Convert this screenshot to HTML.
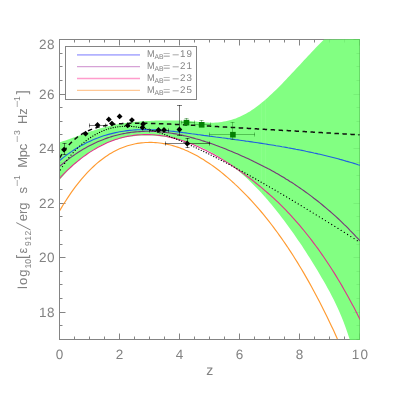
<!DOCTYPE html>
<html><head><meta charset="utf-8"><title>plot</title>
<style>
html,body{margin:0;padding:0;background:#fff;}
body{width:399px;height:399px;position:relative;overflow:hidden;font-family:"Liberation Sans",sans-serif;color:#828282;}
.t{position:absolute;white-space:nowrap;font-weight:400;display:block;text-rendering:geometricPrecision;}
.txt{position:absolute;left:0;top:0;width:399px;height:399px;filter:grayscale(1);}
.ylab{position:absolute;left:0;top:0;width:0;height:0;transform-origin:0 0;transform:translate(27.4px,288.5px) rotate(-90deg);}
</style></head><body>
<svg width="399" height="399" viewBox="0 0 399 399" style="position:absolute;left:0;top:0">
<defs><clipPath id="cp"><rect x="60" y="39" width="300" height="301"/></clipPath></defs>
<g stroke="#848484" stroke-width="1" fill="none" shape-rendering="auto">
<rect x="59.5" y="39.5" width="300" height="300"/>
<path d="M59.5 339.5v-6 M59.5 39.5v6 M74.5 339.5v-3 M74.5 39.5v3 M89.5 339.5v-3 M89.5 39.5v3 M104.5 339.5v-3 M104.5 39.5v3 M119.5 339.5v-6 M119.5 39.5v6 M134.5 339.5v-3 M134.5 39.5v3 M149.5 339.5v-3 M149.5 39.5v3 M164.5 339.5v-3 M164.5 39.5v3 M179.5 339.5v-6 M179.5 39.5v6 M194.5 339.5v-3 M194.5 39.5v3 M209.5 339.5v-3 M209.5 39.5v3 M224.5 339.5v-3 M224.5 39.5v3 M239.5 339.5v-6 M239.5 39.5v6 M254.5 339.5v-3 M254.5 39.5v3 M269.5 339.5v-3 M269.5 39.5v3 M284.5 339.5v-3 M284.5 39.5v3 M299.5 339.5v-6 M299.5 39.5v6 M314.5 339.5v-3 M314.5 39.5v3 M329.5 339.5v-3 M329.5 39.5v3 M344.5 339.5v-3 M344.5 39.5v3 M359.5 339.5v-6 M359.5 39.5v6 M59.5 339.5h3 M359.5 339.5h-3 M59.5 325.5h3 M359.5 325.5h-3 M59.5 312.5h6 M359.5 312.5h-6 M59.5 298.5h3 M359.5 298.5h-3 M59.5 284.5h3 M359.5 284.5h-3 M59.5 271.5h3 M359.5 271.5h-3 M59.5 257.5h6 M359.5 257.5h-6 M59.5 244.5h3 M359.5 244.5h-3 M59.5 230.5h3 M359.5 230.5h-3 M59.5 216.5h3 M359.5 216.5h-3 M59.5 203.5h6 M359.5 203.5h-6 M59.5 189.5h3 M359.5 189.5h-3 M59.5 175.5h3 M359.5 175.5h-3 M59.5 162.5h3 M359.5 162.5h-3 M59.5 148.5h6 M359.5 148.5h-6 M59.5 134.5h3 M359.5 134.5h-3 M59.5 121.5h3 M359.5 121.5h-3 M59.5 107.5h3 M359.5 107.5h-3 M59.5 94.5h6 M359.5 94.5h-6 M59.5 80.5h3 M359.5 80.5h-3 M59.5 66.5h3 M359.5 66.5h-3 M59.5 53.5h3 M359.5 53.5h-3 M59.5 39.5h6 M359.5 39.5h-6"/>
</g>
<g clip-path="url(#cp)">
<path d="M59.5 142.3 L61.5 141.7 L63.5 141.0 L65.5 140.4 L67.5 139.7 L69.5 139.0 L71.5 138.3 L73.5 137.6 L75.5 136.9 L77.5 136.1 L79.5 135.4 L81.5 134.7 L83.5 134.0 L85.5 133.2 L87.6 132.5 L89.6 131.8 L91.6 131.1 L93.6 130.4 L95.6 129.8 L97.6 129.2 L99.6 128.5 L101.6 128.0 L103.6 127.4 L105.6 126.9 L107.6 126.4 L109.6 125.9 L111.6 125.5 L113.6 125.1 L115.6 124.7 L117.6 124.3 L119.6 123.9 L121.6 123.6 L123.6 123.3 L125.6 123.0 L127.6 122.7 L129.6 122.5 L131.6 122.3 L133.6 122.0 L135.6 121.8 L137.6 121.7 L139.7 121.5 L141.7 121.3 L143.7 121.2 L145.7 121.1 L147.7 121.0 L149.7 120.9 L151.7 120.8 L153.7 120.7 L155.7 120.6 L157.7 120.5 L159.7 120.5 L161.7 120.5 L163.7 120.4 L165.7 120.4 L167.7 120.4 L169.7 120.4 L171.7 120.4 L173.7 120.5 L175.7 120.5 L177.7 120.6 L179.7 120.6 L181.7 120.7 L183.7 120.8 L185.7 120.9 L187.7 121.0 L189.7 121.1 L191.8 121.3 L193.8 121.5 L195.8 121.6 L197.8 121.8 L199.8 122.0 L201.8 122.2 L203.8 122.3 L205.8 122.5 L207.8 122.6 L209.8 122.7 L211.8 122.7 L213.8 122.7 L215.8 122.6 L217.8 122.4 L219.8 122.2 L221.8 122.0 L223.8 121.6 L225.8 121.3 L227.8 120.8 L229.8 120.3 L231.8 119.7 L233.8 119.1 L235.8 118.4 L237.8 117.6 L239.8 116.7 L241.8 115.8 L243.8 114.8 L245.9 113.7 L247.9 112.6 L249.9 111.4 L251.9 110.1 L253.9 108.7 L255.9 107.3 L257.9 105.8 L259.9 104.2 L261.9 102.6 L263.9 100.9 L265.9 99.2 L267.9 97.4 L269.9 95.6 L271.9 93.7 L273.9 91.8 L275.9 89.9 L277.9 87.9 L279.9 85.9 L281.9 83.9 L283.9 81.8 L285.9 79.7 L287.9 77.6 L289.9 75.5 L291.9 73.3 L293.9 71.2 L295.9 69.0 L298.0 66.8 L300.0 64.7 L302.0 62.5 L304.0 60.3 L306.0 58.2 L308.0 56.0 L310.0 53.9 L312.0 51.8 L314.0 49.7 L316.0 47.6 L318.0 45.5 L320.0 43.5 L322.0 41.5 L324.0 39.5 L360.0 39.0 L360.0 340.0 L349.8 340.0 L349.8 339.7 L347.8 333.7 L345.8 328.0 L343.8 322.6 L341.8 317.6 L339.8 312.8 L337.8 308.2 L335.8 303.9 L333.8 299.8 L331.8 295.9 L329.8 292.1 L327.8 288.4 L325.8 284.8 L323.8 281.3 L321.8 277.9 L319.8 274.5 L317.8 271.1 L315.8 267.8 L313.8 264.5 L311.8 261.3 L309.8 258.1 L307.8 254.9 L305.8 251.8 L303.8 248.7 L301.8 245.6 L299.7 242.6 L297.7 239.7 L295.7 236.7 L293.7 233.8 L291.7 231.0 L289.7 228.2 L287.7 225.4 L285.7 222.7 L283.7 220.0 L281.7 217.4 L279.7 214.8 L277.7 212.2 L275.7 209.7 L273.7 207.2 L271.7 204.8 L269.7 202.4 L267.7 200.1 L265.7 197.8 L263.7 195.5 L261.7 193.3 L259.7 191.1 L257.7 189.0 L255.7 187.0 L253.7 184.9 L251.7 182.9 L249.7 181.0 L247.7 179.1 L245.7 177.3 L243.7 175.5 L241.7 173.7 L239.7 172.0 L237.7 170.3 L235.7 168.7 L233.7 167.1 L231.7 165.6 L229.7 164.1 L227.7 162.7 L225.7 161.3 L223.7 159.9 L221.7 158.6 L219.7 157.3 L217.7 156.0 L215.7 154.8 L213.7 153.7 L211.7 152.6 L209.7 151.5 L207.7 150.4 L205.7 149.4 L203.6 148.5 L201.6 147.5 L199.6 146.6 L197.6 145.8 L195.6 145.0 L193.6 144.2 L191.6 143.4 L189.6 142.7 L187.6 142.1 L185.6 141.4 L183.6 140.8 L181.6 140.3 L179.6 139.7 L177.6 139.2 L175.6 138.8 L173.6 138.3 L171.6 137.9 L169.6 137.5 L167.6 137.2 L165.6 136.9 L163.6 136.6 L161.6 136.4 L159.6 136.2 L157.6 136.0 L155.6 135.8 L153.6 135.7 L151.6 135.6 L149.6 135.5 L147.6 135.5 L145.6 135.5 L143.6 135.5 L141.6 135.6 L139.6 135.7 L137.6 135.8 L135.6 136.0 L133.6 136.2 L131.6 136.4 L129.6 136.7 L127.6 137.0 L125.6 137.3 L123.6 137.7 L121.6 138.2 L119.6 138.7 L117.6 139.2 L115.6 139.8 L113.6 140.4 L111.6 141.1 L109.6 141.8 L107.5 142.6 L105.5 143.4 L103.5 144.3 L101.5 145.3 L99.5 146.3 L97.5 147.4 L95.5 148.5 L93.5 149.7 L91.5 150.9 L89.5 152.2 L87.5 153.6 L85.5 155.0 L83.5 156.5 L81.5 158.1 L79.5 159.7 L77.5 161.5 L75.5 163.2 L73.5 165.1 L71.5 167.0 L69.5 169.0 L67.5 171.1 L65.5 173.3 L63.5 175.5 L61.5 177.8 L59.5 180.2Z" fill="#82ff82" stroke="none"/>
<clipPath id="gp"><path d="M59.5 142.3 L61.5 141.7 L63.5 141.0 L65.5 140.4 L67.5 139.7 L69.5 139.0 L71.5 138.3 L73.5 137.6 L75.5 136.9 L77.5 136.1 L79.5 135.4 L81.5 134.7 L83.5 134.0 L85.5 133.2 L87.6 132.5 L89.6 131.8 L91.6 131.1 L93.6 130.4 L95.6 129.8 L97.6 129.2 L99.6 128.5 L101.6 128.0 L103.6 127.4 L105.6 126.9 L107.6 126.4 L109.6 125.9 L111.6 125.5 L113.6 125.1 L115.6 124.7 L117.6 124.3 L119.6 123.9 L121.6 123.6 L123.6 123.3 L125.6 123.0 L127.6 122.7 L129.6 122.5 L131.6 122.3 L133.6 122.0 L135.6 121.8 L137.6 121.7 L139.7 121.5 L141.7 121.3 L143.7 121.2 L145.7 121.1 L147.7 121.0 L149.7 120.9 L151.7 120.8 L153.7 120.7 L155.7 120.6 L157.7 120.5 L159.7 120.5 L161.7 120.5 L163.7 120.4 L165.7 120.4 L167.7 120.4 L169.7 120.4 L171.7 120.4 L173.7 120.5 L175.7 120.5 L177.7 120.6 L179.7 120.6 L181.7 120.7 L183.7 120.8 L185.7 120.9 L187.7 121.0 L189.7 121.1 L191.8 121.3 L193.8 121.5 L195.8 121.6 L197.8 121.8 L199.8 122.0 L201.8 122.2 L203.8 122.3 L205.8 122.5 L207.8 122.6 L209.8 122.7 L211.8 122.7 L213.8 122.7 L215.8 122.6 L217.8 122.4 L219.8 122.2 L221.8 122.0 L223.8 121.6 L225.8 121.3 L227.8 120.8 L229.8 120.3 L231.8 119.7 L233.8 119.1 L235.8 118.4 L237.8 117.6 L239.8 116.7 L241.8 115.8 L243.8 114.8 L245.9 113.7 L247.9 112.6 L249.9 111.4 L251.9 110.1 L253.9 108.7 L255.9 107.3 L257.9 105.8 L259.9 104.2 L261.9 102.6 L263.9 100.9 L265.9 99.2 L267.9 97.4 L269.9 95.6 L271.9 93.7 L273.9 91.8 L275.9 89.9 L277.9 87.9 L279.9 85.9 L281.9 83.9 L283.9 81.8 L285.9 79.7 L287.9 77.6 L289.9 75.5 L291.9 73.3 L293.9 71.2 L295.9 69.0 L298.0 66.8 L300.0 64.7 L302.0 62.5 L304.0 60.3 L306.0 58.2 L308.0 56.0 L310.0 53.9 L312.0 51.8 L314.0 49.7 L316.0 47.6 L318.0 45.5 L320.0 43.5 L322.0 41.5 L324.0 39.5 L360.0 39.0 L360.0 340.0 L349.8 340.0 L349.8 339.7 L347.8 333.7 L345.8 328.0 L343.8 322.6 L341.8 317.6 L339.8 312.8 L337.8 308.2 L335.8 303.9 L333.8 299.8 L331.8 295.9 L329.8 292.1 L327.8 288.4 L325.8 284.8 L323.8 281.3 L321.8 277.9 L319.8 274.5 L317.8 271.1 L315.8 267.8 L313.8 264.5 L311.8 261.3 L309.8 258.1 L307.8 254.9 L305.8 251.8 L303.8 248.7 L301.8 245.6 L299.7 242.6 L297.7 239.7 L295.7 236.7 L293.7 233.8 L291.7 231.0 L289.7 228.2 L287.7 225.4 L285.7 222.7 L283.7 220.0 L281.7 217.4 L279.7 214.8 L277.7 212.2 L275.7 209.7 L273.7 207.2 L271.7 204.8 L269.7 202.4 L267.7 200.1 L265.7 197.8 L263.7 195.5 L261.7 193.3 L259.7 191.1 L257.7 189.0 L255.7 187.0 L253.7 184.9 L251.7 182.9 L249.7 181.0 L247.7 179.1 L245.7 177.3 L243.7 175.5 L241.7 173.7 L239.7 172.0 L237.7 170.3 L235.7 168.7 L233.7 167.1 L231.7 165.6 L229.7 164.1 L227.7 162.7 L225.7 161.3 L223.7 159.9 L221.7 158.6 L219.7 157.3 L217.7 156.0 L215.7 154.8 L213.7 153.7 L211.7 152.6 L209.7 151.5 L207.7 150.4 L205.7 149.4 L203.6 148.5 L201.6 147.5 L199.6 146.6 L197.6 145.8 L195.6 145.0 L193.6 144.2 L191.6 143.4 L189.6 142.7 L187.6 142.1 L185.6 141.4 L183.6 140.8 L181.6 140.3 L179.6 139.7 L177.6 139.2 L175.6 138.8 L173.6 138.3 L171.6 137.9 L169.6 137.5 L167.6 137.2 L165.6 136.9 L163.6 136.6 L161.6 136.4 L159.6 136.2 L157.6 136.0 L155.6 135.8 L153.6 135.7 L151.6 135.6 L149.6 135.5 L147.6 135.5 L145.6 135.5 L143.6 135.5 L141.6 135.6 L139.6 135.7 L137.6 135.8 L135.6 136.0 L133.6 136.2 L131.6 136.4 L129.6 136.7 L127.6 137.0 L125.6 137.3 L123.6 137.7 L121.6 138.2 L119.6 138.7 L117.6 139.2 L115.6 139.8 L113.6 140.4 L111.6 141.1 L109.6 141.8 L107.5 142.6 L105.5 143.4 L103.5 144.3 L101.5 145.3 L99.5 146.3 L97.5 147.4 L95.5 148.5 L93.5 149.7 L91.5 150.9 L89.5 152.2 L87.5 153.6 L85.5 155.0 L83.5 156.5 L81.5 158.1 L79.5 159.7 L77.5 161.5 L75.5 163.2 L73.5 165.1 L71.5 167.0 L69.5 169.0 L67.5 171.1 L65.5 173.3 L63.5 175.5 L61.5 177.8 L59.5 180.2Z"/></clipPath>
<g clip-path="url(#gp)" stroke="#004000" stroke-opacity="0.2" stroke-width="1" fill="none">
<path d="M59.5 39.5H359.5V339.5H59.5"/>
<path d="M59.5 339.5v-6 M59.5 39.5v6 M74.5 339.5v-3 M74.5 39.5v3 M89.5 339.5v-3 M89.5 39.5v3 M104.5 339.5v-3 M104.5 39.5v3 M119.5 339.5v-6 M119.5 39.5v6 M134.5 339.5v-3 M134.5 39.5v3 M149.5 339.5v-3 M149.5 39.5v3 M164.5 339.5v-3 M164.5 39.5v3 M179.5 339.5v-6 M179.5 39.5v6 M194.5 339.5v-3 M194.5 39.5v3 M209.5 339.5v-3 M209.5 39.5v3 M224.5 339.5v-3 M224.5 39.5v3 M239.5 339.5v-6 M239.5 39.5v6 M254.5 339.5v-3 M254.5 39.5v3 M269.5 339.5v-3 M269.5 39.5v3 M284.5 339.5v-3 M284.5 39.5v3 M299.5 339.5v-6 M299.5 39.5v6 M314.5 339.5v-3 M314.5 39.5v3 M329.5 339.5v-3 M329.5 39.5v3 M344.5 339.5v-3 M344.5 39.5v3 M359.5 339.5v-6 M359.5 39.5v6 M59.5 339.5h3 M359.5 339.5h-3 M59.5 325.5h3 M359.5 325.5h-3 M59.5 312.5h6 M359.5 312.5h-6 M59.5 298.5h3 M359.5 298.5h-3 M59.5 284.5h3 M359.5 284.5h-3 M59.5 271.5h3 M359.5 271.5h-3 M59.5 257.5h6 M359.5 257.5h-6 M59.5 244.5h3 M359.5 244.5h-3 M59.5 230.5h3 M359.5 230.5h-3 M59.5 216.5h3 M359.5 216.5h-3 M59.5 203.5h6 M359.5 203.5h-6 M59.5 189.5h3 M359.5 189.5h-3 M59.5 175.5h3 M359.5 175.5h-3 M59.5 162.5h3 M359.5 162.5h-3 M59.5 148.5h6 M359.5 148.5h-6 M59.5 134.5h3 M359.5 134.5h-3 M59.5 121.5h3 M359.5 121.5h-3 M59.5 107.5h3 M359.5 107.5h-3 M59.5 94.5h6 M359.5 94.5h-6 M59.5 80.5h3 M359.5 80.5h-3 M59.5 66.5h3 M359.5 66.5h-3 M59.5 53.5h3 M359.5 53.5h-3 M59.5 39.5h6 M359.5 39.5h-6" stroke-opacity="0.08"/>
<path d="M261.5 39V339M265.5 39V339" stroke="#ffffff" stroke-opacity="0.07"/>
</g>
<path d="M59.5 211.0 L61.5 207.6 L63.5 204.3 L65.5 201.2 L67.5 198.1 L69.5 195.1 L71.5 192.2 L73.5 189.4 L75.5 186.7 L77.5 184.1 L79.5 181.6 L81.5 179.1 L83.5 176.8 L85.5 174.6 L87.5 172.4 L89.5 170.3 L91.5 168.4 L93.5 166.5 L95.5 164.6 L97.5 162.9 L99.5 161.2 L101.5 159.7 L103.5 158.2 L105.5 156.7 L107.5 155.4 L109.5 154.1 L111.5 152.9 L113.5 151.8 L115.5 150.7 L117.5 149.7 L119.5 148.8 L121.5 148.0 L123.5 147.2 L125.5 146.5 L127.5 145.8 L129.5 145.2 L131.5 144.7 L133.5 144.2 L135.5 143.8 L137.5 143.4 L139.5 143.1 L141.5 142.9 L143.5 142.7 L145.5 142.5 L147.5 142.5 L149.5 142.4 L151.5 142.4 L153.5 142.5 L155.5 142.6 L157.5 142.8 L159.5 143.0 L161.5 143.3 L163.5 143.6 L165.5 143.9 L167.5 144.4 L169.5 144.8 L171.5 145.3 L173.5 145.9 L175.5 146.5 L177.5 147.1 L179.5 147.8 L181.5 148.6 L183.5 149.3 L185.5 150.2 L187.5 151.0 L189.5 152.0 L191.5 152.9 L193.5 153.9 L195.5 155.0 L197.5 156.1 L199.4 157.2 L201.4 158.4 L203.4 159.6 L205.4 160.9 L207.4 162.2 L209.4 163.5 L211.4 164.9 L213.4 166.3 L215.4 167.8 L217.4 169.3 L219.4 170.8 L221.4 172.4 L223.4 174.0 L225.4 175.7 L227.4 177.4 L229.4 179.1 L231.4 180.9 L233.4 182.7 L235.4 184.6 L237.4 186.4 L239.4 188.4 L241.4 190.3 L243.4 192.3 L245.4 194.3 L247.4 196.4 L249.4 198.5 L251.4 200.7 L253.4 202.9 L255.4 205.1 L257.4 207.4 L259.4 209.7 L261.4 212.0 L263.4 214.4 L265.4 216.9 L267.4 219.4 L269.4 221.9 L271.4 224.5 L273.4 227.1 L275.4 229.8 L277.4 232.5 L279.4 235.3 L281.4 238.1 L283.4 241.0 L285.4 243.9 L287.4 246.8 L289.4 249.9 L291.4 252.9 L293.4 256.0 L295.4 259.2 L297.4 262.4 L299.4 265.7 L301.4 269.0 L303.4 272.4 L305.4 275.9 L307.4 279.4 L309.4 282.9 L311.4 286.5 L313.4 290.2 L315.4 293.9 L317.4 297.7 L319.4 301.5 L321.4 305.4 L323.4 309.4 L325.4 313.4 L327.4 317.5 L329.4 321.7 L331.4 325.9 L333.4 330.1 L335.4 334.5 L337.4 338.9" fill="none" stroke="#ff9a30" stroke-width="1.15" />
<path d="M59.5 178.4 L61.5 176.3 L63.5 174.2 L65.5 172.2 L67.5 170.2 L69.5 168.3 L71.5 166.5 L73.5 164.7 L75.5 163.0 L77.5 161.3 L79.5 159.7 L81.5 158.1 L83.5 156.6 L85.5 155.2 L87.5 153.8 L89.5 152.4 L91.6 151.1 L93.6 149.9 L95.6 148.7 L97.6 147.6 L99.6 146.5 L101.6 145.5 L103.6 144.5 L105.6 143.5 L107.6 142.6 L109.6 141.8 L111.6 141.0 L113.6 140.3 L115.6 139.6 L117.6 138.9 L119.6 138.3 L121.6 137.8 L123.6 137.3 L125.6 136.8 L127.6 136.4 L129.6 136.0 L131.6 135.7 L133.6 135.4 L135.6 135.1 L137.6 134.9 L139.6 134.8 L141.6 134.7 L143.6 134.6 L145.6 134.5 L147.6 134.6 L149.7 134.6 L151.7 134.7 L153.7 134.8 L155.7 135.0 L157.7 135.2 L159.7 135.4 L161.7 135.7 L163.7 136.0 L165.7 136.3 L167.7 136.7 L169.7 137.1 L171.7 137.6 L173.7 138.1 L175.7 138.6 L177.7 139.2 L179.7 139.8 L181.7 140.4 L183.7 141.1 L185.7 141.8 L187.7 142.5 L189.7 143.2 L191.7 144.0 L193.7 144.8 L195.7 145.7 L197.7 146.6 L199.7 147.5 L201.7 148.4 L203.7 149.4 L205.7 150.3 L207.7 151.4 L209.8 152.4 L211.8 153.5 L213.8 154.6 L215.8 155.7 L217.8 156.8 L219.8 158.0 L221.8 159.2 L223.8 160.4 L225.8 161.7 L227.8 162.9 L229.8 164.2 L231.8 165.5 L233.8 166.9 L235.8 168.2 L237.8 169.6 L239.8 171.0 L241.8 172.4 L243.8 173.9 L245.8 175.3 L247.8 176.8 L249.8 178.3 L251.8 179.8 L253.8 181.4 L255.8 183.0 L257.8 184.6 L259.8 186.2 L261.8 187.9 L263.8 189.6 L265.8 191.3 L267.8 193.0 L269.9 194.8 L271.9 196.6 L273.9 198.4 L275.9 200.3 L277.9 202.2 L279.9 204.2 L281.9 206.2 L283.9 208.2 L285.9 210.2 L287.9 212.3 L289.9 214.4 L291.9 216.6 L293.9 218.8 L295.9 221.1 L297.9 223.4 L299.9 225.7 L301.9 228.1 L303.9 230.5 L305.9 233.0 L307.9 235.5 L309.9 238.0 L311.9 240.6 L313.9 243.3 L315.9 246.0 L317.9 248.7 L319.9 251.5 L321.9 254.4 L323.9 257.3 L325.9 260.3 L327.9 263.3 L329.9 266.3 L332.0 269.5 L334.0 272.6 L336.0 275.9 L338.0 279.2 L340.0 282.5 L342.0 285.9 L344.0 289.4 L346.0 292.9 L348.0 296.5 L350.0 300.2 L352.0 303.9 L354.0 307.6 L356.0 311.5 L358.0 315.4 L360.0 319.4" fill="none" stroke="#e0308c" stroke-width="1.1" />
<path d="M59.5 166.5 L61.5 164.8 L63.5 163.1 L65.5 161.5 L67.5 159.9 L69.5 158.4 L71.5 156.9 L73.5 155.5 L75.5 154.1 L77.5 152.8 L79.5 151.5 L81.5 150.3 L83.5 149.1 L85.5 147.9 L87.5 146.8 L89.5 145.7 L91.6 144.7 L93.6 143.7 L95.6 142.8 L97.6 141.8 L99.6 141.0 L101.6 140.2 L103.6 139.4 L105.6 138.6 L107.6 137.9 L109.6 137.3 L111.6 136.6 L113.6 136.0 L115.6 135.5 L117.6 135.0 L119.6 134.5 L121.6 134.0 L123.6 133.6 L125.6 133.3 L127.6 132.9 L129.6 132.6 L131.6 132.3 L133.6 132.1 L135.6 131.9 L137.6 131.7 L139.6 131.6 L141.6 131.5 L143.6 131.4 L145.6 131.3 L147.6 131.3 L149.7 131.3 L151.7 131.4 L153.7 131.4 L155.7 131.5 L157.7 131.7 L159.7 131.8 L161.7 132.0 L163.7 132.2 L165.7 132.4 L167.7 132.7 L169.7 133.0 L171.7 133.3 L173.7 133.6 L175.7 133.9 L177.7 134.3 L179.7 134.7 L181.7 135.1 L183.7 135.6 L185.7 136.0 L187.7 136.5 L189.7 137.0 L191.7 137.6 L193.7 138.1 L195.7 138.7 L197.7 139.2 L199.7 139.8 L201.7 140.5 L203.7 141.1 L205.7 141.8 L207.7 142.4 L209.8 143.1 L211.8 143.8 L213.8 144.5 L215.8 145.3 L217.8 146.0 L219.8 146.8 L221.8 147.5 L223.8 148.3 L225.8 149.1 L227.8 149.9 L229.8 150.8 L231.8 151.6 L233.8 152.4 L235.8 153.3 L237.8 154.1 L239.8 155.0 L241.8 155.9 L243.8 156.8 L245.8 157.7 L247.8 158.6 L249.8 159.6 L251.8 160.5 L253.8 161.5 L255.8 162.4 L257.8 163.4 L259.8 164.4 L261.8 165.4 L263.8 166.5 L265.8 167.5 L267.8 168.6 L269.9 169.6 L271.9 170.7 L273.9 171.8 L275.9 173.0 L277.9 174.1 L279.9 175.3 L281.9 176.4 L283.9 177.6 L285.9 178.9 L287.9 180.1 L289.9 181.4 L291.9 182.6 L293.9 183.9 L295.9 185.3 L297.9 186.6 L299.9 188.0 L301.9 189.4 L303.9 190.8 L305.9 192.2 L307.9 193.6 L309.9 195.1 L311.9 196.6 L313.9 198.2 L315.9 199.7 L317.9 201.3 L319.9 202.9 L321.9 204.5 L323.9 206.2 L325.9 207.9 L327.9 209.6 L329.9 211.3 L332.0 213.1 L334.0 214.9 L336.0 216.7 L338.0 218.5 L340.0 220.4 L342.0 222.3 L344.0 224.3 L346.0 226.2 L348.0 228.2 L350.0 230.3 L352.0 232.3 L354.0 234.4 L356.0 236.6 L358.0 238.7 L360.0 240.9" fill="none" stroke="#763878" stroke-width="1.12" />
<path d="M59.5 160.6 L61.5 159.0 L63.5 157.4 L65.5 155.9 L67.5 154.4 L69.5 153.0 L71.5 151.6 L73.5 150.3 L75.5 149.0 L77.5 147.8 L79.5 146.6 L81.5 145.4 L83.5 144.4 L85.5 143.3 L87.5 142.3 L89.5 141.4 L91.6 140.4 L93.6 139.6 L95.6 138.7 L97.6 138.0 L99.6 137.2 L101.6 136.5 L103.6 135.8 L105.6 135.2 L107.6 134.6 L109.6 134.1 L111.6 133.6 L113.6 133.1 L115.6 132.6 L117.6 132.2 L119.6 131.8 L121.6 131.5 L123.6 131.2 L125.6 130.9 L127.6 130.6 L129.6 130.4 L131.6 130.2 L133.6 130.0 L135.6 129.9 L137.6 129.8 L139.6 129.7 L141.6 129.7 L143.6 129.6 L145.6 129.6 L147.6 129.6 L149.7 129.7 L151.7 129.7 L153.7 129.8 L155.7 129.9 L157.7 130.0 L159.7 130.1 L161.7 130.3 L163.7 130.4 L165.7 130.6 L167.7 130.8 L169.7 131.0 L171.7 131.2 L173.7 131.4 L175.7 131.7 L177.7 131.9 L179.7 132.2 L181.7 132.4 L183.7 132.7 L185.7 132.9 L187.7 133.2 L189.7 133.5 L191.7 133.8 L193.7 134.0 L195.7 134.3 L197.7 134.6 L199.7 134.8 L201.7 135.1 L203.7 135.4 L205.7 135.6 L207.7 135.9 L209.8 136.2 L211.8 136.4 L213.8 136.7 L215.8 137.0 L217.8 137.2 L219.8 137.5 L221.8 137.8 L223.8 138.0 L225.8 138.3 L227.8 138.6 L229.8 138.8 L231.8 139.1 L233.8 139.4 L235.8 139.7 L237.8 139.9 L239.8 140.2 L241.8 140.5 L243.8 140.8 L245.8 141.1 L247.8 141.3 L249.8 141.6 L251.8 141.9 L253.8 142.2 L255.8 142.5 L257.8 142.8 L259.8 143.1 L261.8 143.4 L263.8 143.7 L265.8 144.0 L267.8 144.4 L269.9 144.7 L271.9 145.0 L273.9 145.3 L275.9 145.7 L277.9 146.0 L279.9 146.3 L281.9 146.7 L283.9 147.0 L285.9 147.4 L287.9 147.8 L289.9 148.1 L291.9 148.5 L293.9 148.9 L295.9 149.3 L297.9 149.6 L299.9 150.0 L301.9 150.4 L303.9 150.8 L305.9 151.3 L307.9 151.7 L309.9 152.1 L311.9 152.5 L313.9 153.0 L315.9 153.4 L317.9 153.9 L319.9 154.3 L321.9 154.8 L323.9 155.3 L325.9 155.8 L327.9 156.3 L329.9 156.8 L332.0 157.3 L334.0 157.8 L336.0 158.3 L338.0 158.8 L340.0 159.4 L342.0 159.9 L344.0 160.5 L346.0 161.1 L348.0 161.6 L350.0 162.2 L352.0 162.8 L354.0 163.4 L356.0 164.0 L358.0 164.7 L360.0 165.3" fill="none" stroke="#2060e0" stroke-width="1.1" />
<path d="M60.40 169.88h0.01M62.50 166.53h0.01M64.61 163.39h0.01M66.73 160.46h0.01M68.86 157.70h0.01M70.99 155.11h0.01M73.14 152.66h0.01M75.29 150.35h0.01M77.45 148.18h0.01M79.62 146.12h0.01M81.80 144.18h0.01M83.99 142.36h0.01M86.18 140.63h0.01M88.39 139.01h0.01M90.60 137.49h0.01M92.82 136.08h0.01M95.05 134.75h0.01M97.29 133.53h0.01M99.54 132.40h0.01M101.80 131.36h0.01M104.06 130.43h0.01M106.33 129.59h0.01M108.61 128.85h0.01M110.89 128.20h0.01M113.17 127.65h0.01M115.46 127.19h0.01M117.75 126.83h0.01M120.05 126.55h0.01M122.36 126.37h0.01M124.66 126.27h0.01M126.98 126.25h0.01M129.30 126.31h0.01M131.62 126.46h0.01M133.95 126.67h0.01M136.28 126.95h0.01M138.62 127.30h0.01M140.97 127.72h0.01M143.32 128.19h0.01M145.67 128.71h0.01M148.03 129.29h0.01M150.40 129.92h0.01M152.77 130.59h0.01M155.14 131.30h0.01M157.52 132.05h0.01M159.91 132.84h0.01M162.30 133.67h0.01M164.69 134.53h0.01M167.09 135.42h0.01M169.50 136.33h0.01M171.91 137.28h0.01M174.33 138.25h0.01M176.75 139.24h0.01M179.18 140.26h0.01M181.61 141.30h0.01M184.05 142.36h0.01M186.49 143.44h0.01M188.94 144.54h0.01M191.40 145.66h0.01M193.85 146.80h0.01M196.32 147.96h0.01M198.79 149.13h0.01M201.27 150.32h0.01M203.75 151.52h0.01M206.23 152.74h0.01M208.72 153.97h0.01M211.22 155.22h0.01M213.73 156.48h0.01M216.25 157.76h0.01M218.78 159.06h0.01M221.33 160.38h0.01M223.88 161.71h0.01M226.46 163.06h0.01M229.04 164.43h0.01M231.64 165.81h0.01M234.26 167.22h0.01M236.88 168.63h0.01M239.52 170.07h0.01M242.18 171.52h0.01M244.84 172.99h0.01M247.53 174.47h0.01M250.22 175.97h0.01M252.93 177.49h0.01M255.66 179.02h0.01M258.39 180.57h0.01M261.15 182.13h0.01M263.91 183.71h0.01M266.69 185.31h0.01M269.49 186.92h0.01M272.30 188.55h0.01M275.13 190.20h0.01M277.97 191.86h0.01M280.82 193.54h0.01M283.69 195.23h0.01M286.57 196.94h0.01M289.47 198.66h0.01M292.39 200.40h0.01M295.32 202.16h0.01M298.26 203.93h0.01M301.22 205.72h0.01M304.20 207.53h0.01M307.19 209.35h0.01M310.20 211.18h0.01M313.22 213.04h0.01M316.26 214.91h0.01M319.31 216.79h0.01M322.38 218.69h0.01M325.47 220.61h0.01M328.57 222.54h0.01M331.69 224.49h0.01M334.83 226.46h0.01M337.99 228.44h0.01M341.16 230.45h0.01M344.35 232.46h0.01M347.57 234.50h0.01M350.79 236.55h0.01M354.04 238.62h0.01M357.31 240.71h0.01" fill="none" stroke="#000" stroke-width="1.3" stroke-linecap="round"/>
<path d="M59.5 158.1 L60.5 156.5 L61.5 154.9 L62.5 153.3 L63.5 151.9 L64.5 150.5 L65.5 149.1 L66.5 147.8 L67.5 146.6 L68.5 145.5 L69.5 144.3 L70.5 143.3 L71.5 142.3 L72.5 141.3 L73.5 140.4 L74.5 139.5 L75.5 138.6 L76.5 137.8 L77.5 137.0 L78.5 136.3 L79.5 135.6 L80.5 134.9 L81.5 134.3 L82.5 133.7 L83.5 133.1 L84.5 132.6 L85.5 132.0 L86.5 131.5 L87.5 131.0 L88.5 130.6 L89.5 130.2 L90.5 129.7 L91.5 129.4 L92.5 129.0 L93.5 128.6 L94.5 128.3 L95.5 128.0 L96.5 127.7 L97.5 127.4 L98.5 127.1 L99.5 126.8 L100.5 126.6 L101.5 126.3 L102.5 126.1 L103.5 125.9 L104.5 125.7 L105.5 125.5 L106.5 125.4 L107.5 125.2 L108.5 125.0 L109.5 124.9 L110.5 124.7 L111.5 124.6 L112.5 124.5 L113.5 124.4 L114.5 124.3 L115.5 124.2 L116.5 124.1 L117.5 124.0 L118.5 123.9 L119.5 123.8 L120.5 123.8 L121.5 123.7 L122.5 123.6 L123.5 123.6 L124.5 123.5 L125.5 123.5 L126.5 123.4 L127.5 123.4 L128.5 123.4 L129.5 123.3 L130.5 123.3 L131.5 123.3 L132.5 123.3 L133.5 123.3 L134.5 123.3 L135.5 123.2 L136.5 123.2 L137.5 123.2 L138.5 123.2 L139.5 123.2 L140.5 123.2 L141.5 123.3 L142.5 123.3 L143.5 123.3 L144.5 123.3 L145.5 123.3 L146.5 123.3 L147.5 123.3 L148.5 123.4 L149.5 123.4 L150.5 123.4 L151.5 123.4 L152.5 123.5 L153.5 123.5 L154.5 123.5 L155.5 123.5 L156.5 123.6 L157.5 123.6 L158.5 123.6 L159.5 123.7 L160.5 123.7 L161.5 123.8 L162.5 123.8 L163.5 123.8 L164.5 123.9 L165.5 123.9 L166.5 124.0 L167.5 124.0 L168.5 124.0 L169.5 124.1 L170.5 124.1 L171.5 124.2 L172.5 124.2 L173.5 124.3 L174.5 124.3 L175.5 124.4 L176.5 124.4 L177.5 124.5 L178.5 124.5 L179.5 124.5 L180.5 124.6 L181.5 124.6 L182.5 124.7 L183.5 124.7 L184.5 124.8 L185.5 124.9 L186.5 124.9 L187.5 125.0 L188.5 125.0 L189.5 125.1 L190.5 125.1 L191.5 125.2 L192.5 125.2 L193.5 125.3 L194.5 125.3 L195.5 125.4 L196.5 125.4 L197.5 125.5 L198.5 125.5 L199.5 125.6 L200.5 125.6 L201.5 125.7 L202.5 125.8 L203.5 125.8 L204.5 125.9 L205.5 125.9 L206.5 126.0 L207.5 126.0 L208.5 126.1 L209.5 126.1 L210.5 126.2 L211.5 126.3 L212.5 126.3 L213.5 126.4 L214.5 126.4 L215.5 126.5 L216.5 126.5 L217.5 126.6 L218.5 126.7 L219.5 126.7 L220.5 126.8 L221.5 126.8 L222.5 126.9 L223.5 126.9 L224.5 127.0 L225.5 127.1 L226.5 127.1 L227.5 127.2 L228.5 127.2 L229.5 127.3 L230.5 127.3 L231.5 127.4 L232.5 127.5 L233.5 127.5 L234.5 127.6 L235.5 127.6 L236.5 127.7 L237.5 127.7 L238.5 127.8 L239.5 127.9 L240.5 127.9 L241.5 128.0 L242.5 128.0 L243.5 128.1 L244.5 128.2 L245.5 128.2 L246.5 128.3 L247.5 128.3 L248.5 128.4 L249.5 128.4 L250.5 128.5 L251.5 128.6 L252.5 128.6 L253.5 128.7 L254.5 128.7 L255.5 128.8 L256.5 128.8 L257.5 128.9 L258.5 129.0 L259.5 129.0 L260.5 129.1 L261.5 129.1 L262.5 129.2 L263.5 129.3 L264.5 129.3 L265.5 129.4 L266.5 129.4 L267.5 129.5 L268.5 129.5 L269.5 129.6 L270.5 129.7 L271.5 129.7 L272.5 129.8 L273.5 129.8 L274.5 129.9 L275.5 130.0 L276.5 130.0 L277.5 130.1 L278.5 130.1 L279.5 130.2 L280.5 130.2 L281.5 130.3 L282.5 130.4 L283.5 130.4 L284.5 130.5 L285.5 130.5 L286.5 130.6 L287.5 130.6 L288.5 130.7 L289.5 130.8 L290.5 130.8 L291.5 130.9 L292.5 130.9 L293.5 131.0 L294.5 131.1 L295.5 131.1 L296.5 131.2 L297.5 131.2 L298.5 131.3 L299.5 131.3 L300.5 131.4 L301.5 131.5 L302.5 131.5 L303.5 131.6 L304.5 131.6 L305.5 131.7 L306.5 131.8 L307.5 131.8 L308.5 131.9 L309.5 131.9 L310.5 132.0 L311.5 132.0 L312.5 132.1 L313.5 132.2 L314.5 132.2 L315.5 132.3 L316.5 132.3 L317.5 132.4 L318.5 132.5 L319.5 132.5 L320.5 132.6 L321.5 132.6 L322.5 132.7 L323.5 132.7 L324.5 132.8 L325.5 132.9 L326.5 132.9 L327.5 133.0 L328.5 133.0 L329.5 133.1 L330.5 133.1 L331.5 133.2 L332.5 133.3 L333.5 133.3 L334.5 133.4 L335.5 133.4 L336.5 133.5 L337.5 133.6 L338.5 133.6 L339.5 133.7 L340.5 133.7 L341.5 133.8 L342.5 133.8 L343.5 133.9 L344.5 134.0 L345.5 134.0 L346.5 134.1 L347.5 134.1 L348.5 134.2 L349.5 134.3 L350.5 134.3 L351.5 134.4 L352.5 134.4 L353.5 134.5 L354.5 134.5 L355.5 134.6 L356.5 134.7 L357.5 134.7 L358.5 134.8 L359.5 134.8" fill="none" stroke="#101010" stroke-width="1.5" stroke-dasharray="4.5 3.5" stroke-dashoffset="7.96"/>
</g>
<path d="M64.5 143.0V155.0 M62.5 143.5h4.0 M62.5 154.5h4.0 M89.0 125.5H106.0 M89.5 123.5v4.0 M105.5 123.5v4.0 M149.0 130.5H169.0 M149.5 128.5v4.0 M168.5 128.5v4.0 M179.5 105.0V136.0 M177.0 105.5h5.0 M177.0 135.5h5.0 M165.0 143.5H210.0 M165.5 141.5v4.0 M209.5 141.5v4.0 M187.5 138.0V148.0 M185.5 138.5h4.0 M185.5 147.5h4.0" stroke="#000" stroke-opacity="0.5" stroke-width="1" fill="none"/>
<path d="M186.5 118.0V123.0 M184.5 118.5h4.0 M181.0 122.5H195.0 M181.5 120.5v4.0 M194.5 120.5v4.0 M201.5 120.0V125.0 M199.5 120.5h4.0 M194.0 124.5H211.0 M210.5 122.5v4.0 M209.0 134.5H255.0 M209.5 132.5v4.0 M254.5 132.5v4.0 M232.5 122.0V140.0 M230.5 122.5h4.0 M230.5 139.5h4.0" stroke="#0a6a0a" stroke-opacity="0.4" stroke-width="1" fill="none"/>
<g fill="#000">
<path d="M64.0 146.8l2.9 2.9l-2.9 2.9l-2.9 -2.9z"/>
<path d="M85.6 130.8l2.9 2.9l-2.9 2.9l-2.9 -2.9z"/>
<path d="M97.5 122.1l2.9 2.9l-2.9 2.9l-2.9 -2.9z"/>
<path d="M108.8 116.5l2.9 2.9l-2.9 2.9l-2.9 -2.9z"/>
<path d="M111.9 120.7l2.9 2.9l-2.9 2.9l-2.9 -2.9z"/>
<path d="M119.6 113.5l2.9 2.9l-2.9 2.9l-2.9 -2.9z"/>
<path d="M127.7 122.5l2.9 2.9l-2.9 2.9l-2.9 -2.9z"/>
<path d="M131.9 117.2l2.9 2.9l-2.9 2.9l-2.9 -2.9z"/>
<path d="M143.1 121.1l2.9 2.9l-2.9 2.9l-2.9 -2.9z"/>
<path d="M142.5 124.6l2.9 2.9l-2.9 2.9l-2.9 -2.9z"/>
<path d="M158.5 127.1l2.9 2.9l-2.9 2.9l-2.9 -2.9z"/>
<path d="M164.0 127.1l2.9 2.9l-2.9 2.9l-2.9 -2.9z"/>
<path d="M179.4 126.6l2.9 2.9l-2.9 2.9l-2.9 -2.9z"/>
<path d="M187.2 140.6l2.9 2.9l-2.9 2.9l-2.9 -2.9z"/>
</g>
<g fill="#048004">
<rect x="183.7" y="119.8" width="5.6" height="5.6"/>
<rect x="198.9" y="122.0" width="5.6" height="5.6"/>
<rect x="230.1" y="131.9" width="5.6" height="5.6"/>
</g>
<rect x="65.5" y="46.5" width="131" height="53" fill="#fff" stroke="#848484" stroke-width="1"/>
<path d="M77 54.90H140" stroke="#b2b2ff" stroke-width="1.7" fill="none"/>
<path d="M77 66.65H140" stroke="#d6a2d6" stroke-width="1.4" fill="none"/>
<path d="M77 78.50H140" stroke="#ff9ccc" stroke-width="1.4" fill="none"/>
<path d="M77 90.40H140" stroke="#ffc896" stroke-width="1.4" fill="none"/>
<path d="M30.6 230L16.3 222.6" stroke="#828282" stroke-width="1" fill="none"/>
</svg>
<div class="txt">
<span class="t" style="left:38.90px;top:305.90px;font-size:13.5px;line-height:13.5px;letter-spacing:0.7px;">18</span>
<span class="t" style="left:38.90px;top:251.35px;font-size:13.5px;line-height:13.5px;letter-spacing:0.7px;">20</span>
<span class="t" style="left:38.90px;top:196.81px;font-size:13.5px;line-height:13.5px;letter-spacing:0.7px;">22</span>
<span class="t" style="left:38.90px;top:142.26px;font-size:13.5px;line-height:13.5px;letter-spacing:0.7px;">24</span>
<span class="t" style="left:38.90px;top:87.72px;font-size:13.5px;line-height:13.5px;letter-spacing:0.7px;">26</span>
<span class="t" style="left:38.90px;top:37.77px;font-size:13.5px;line-height:13.5px;letter-spacing:0.7px;">28</span>
<span class="t" style="left:55.65px;top:347.57px;font-size:13.5px;line-height:13.5px;">0</span>
<span class="t" style="left:115.65px;top:347.57px;font-size:13.5px;line-height:13.5px;">2</span>
<span class="t" style="left:175.65px;top:347.57px;font-size:13.5px;line-height:13.5px;">4</span>
<span class="t" style="left:235.65px;top:347.57px;font-size:13.5px;line-height:13.5px;">6</span>
<span class="t" style="left:295.65px;top:347.57px;font-size:13.5px;line-height:13.5px;">8</span>
<span class="t" style="left:351.70px;top:347.57px;font-size:13.5px;line-height:13.5px;letter-spacing:1.3px;">10</span>
<span class="t" style="left:206.20px;top:363.45px;font-size:14px;line-height:14px;">z</span>
<span class="t" style="left:147.00px;top:49.80px;font-size:9.8px;line-height:9.8px;transform:scaleX(0.93);transform-origin:0 0;">M</span>
<span class="t" style="left:154.40px;top:55.04px;font-size:6.8px;line-height:6.8px;letter-spacing:0.2px;">AB</span>
<span class="t" style="left:163.20px;top:50.04px;font-size:9.4px;line-height:9.4px;transform:scaleX(1.34);transform-origin:0 0;">=</span>
<span class="t" style="left:171.70px;top:50.04px;font-size:9.4px;line-height:9.4px;transform:scaleX(1.34);transform-origin:0 0;">&minus;</span>
<span class="t" style="left:180.00px;top:49.80px;font-size:9.8px;line-height:9.8px;letter-spacing:1.0px;">19</span>
<span class="t" style="left:147.00px;top:61.70px;font-size:9.8px;line-height:9.8px;transform:scaleX(0.93);transform-origin:0 0;">M</span>
<span class="t" style="left:154.40px;top:66.94px;font-size:6.8px;line-height:6.8px;letter-spacing:0.2px;">AB</span>
<span class="t" style="left:163.20px;top:61.94px;font-size:9.4px;line-height:9.4px;transform:scaleX(1.34);transform-origin:0 0;">=</span>
<span class="t" style="left:171.70px;top:61.94px;font-size:9.4px;line-height:9.4px;transform:scaleX(1.34);transform-origin:0 0;">&minus;</span>
<span class="t" style="left:180.00px;top:61.70px;font-size:9.8px;line-height:9.8px;letter-spacing:1.0px;">21</span>
<span class="t" style="left:147.00px;top:73.60px;font-size:9.8px;line-height:9.8px;transform:scaleX(0.93);transform-origin:0 0;">M</span>
<span class="t" style="left:154.40px;top:78.84px;font-size:6.8px;line-height:6.8px;letter-spacing:0.2px;">AB</span>
<span class="t" style="left:163.20px;top:73.84px;font-size:9.4px;line-height:9.4px;transform:scaleX(1.34);transform-origin:0 0;">=</span>
<span class="t" style="left:171.70px;top:73.84px;font-size:9.4px;line-height:9.4px;transform:scaleX(1.34);transform-origin:0 0;">&minus;</span>
<span class="t" style="left:180.00px;top:73.60px;font-size:9.8px;line-height:9.8px;letter-spacing:1.0px;">23</span>
<span class="t" style="left:147.00px;top:85.50px;font-size:9.8px;line-height:9.8px;transform:scaleX(0.93);transform-origin:0 0;">M</span>
<span class="t" style="left:154.40px;top:90.74px;font-size:6.8px;line-height:6.8px;letter-spacing:0.2px;">AB</span>
<span class="t" style="left:163.20px;top:85.74px;font-size:9.4px;line-height:9.4px;transform:scaleX(1.34);transform-origin:0 0;">=</span>
<span class="t" style="left:171.70px;top:85.74px;font-size:9.4px;line-height:9.4px;transform:scaleX(1.34);transform-origin:0 0;">&minus;</span>
<span class="t" style="left:180.00px;top:85.50px;font-size:9.8px;line-height:9.8px;letter-spacing:1.0px;">25</span>
<div class="ylab"><span class="t" style="left:-0.60px;top:-11.00px;font-size:13px;line-height:13px;letter-spacing:1.1px;">log</span><span class="t" style="left:20.00px;top:-3.08px;font-size:8.6px;line-height:8.6px;">10</span><span class="t" style="left:29.40px;top:-12.50px;font-size:15px;line-height:15px;">[</span><span class="t" style="left:35.00px;top:-11.00px;font-size:13px;line-height:13px;">&epsilon;</span><span class="t" style="left:42.50px;top:-3.08px;font-size:8.6px;line-height:8.6px;letter-spacing:0.45px;">912</span><span class="t" style="left:67.30px;top:-11.00px;font-size:13px;line-height:13px;letter-spacing:-0.1px;">erg</span><span class="t" style="left:95.00px;top:-11.00px;font-size:13px;line-height:13px;">s</span><span class="t" style="left:101.60px;top:-14.18px;font-size:8.6px;line-height:8.6px;transform:scaleX(1.4);transform-origin:0 0;">&minus;</span><span class="t" style="left:108.40px;top:-14.18px;font-size:8.6px;line-height:8.6px;">1</span><span class="t" style="left:120.70px;top:-11.00px;font-size:13px;line-height:13px;letter-spacing:-0.25px;">Mpc</span><span class="t" style="left:146.20px;top:-14.18px;font-size:8.6px;line-height:8.6px;transform:scaleX(1.4);transform-origin:0 0;">&minus;</span><span class="t" style="left:153.60px;top:-14.18px;font-size:8.6px;line-height:8.6px;">3</span><span class="t" style="left:164.60px;top:-11.00px;font-size:13px;line-height:13px;letter-spacing:-0.3px;">Hz</span><span class="t" style="left:180.70px;top:-14.18px;font-size:8.6px;line-height:8.6px;transform:scaleX(1.4);transform-origin:0 0;">&minus;</span><span class="t" style="left:187.40px;top:-14.18px;font-size:8.6px;line-height:8.6px;">1</span><span class="t" style="left:194.30px;top:-12.50px;font-size:15px;line-height:15px;">]</span></div>
</div>
</body></html>
